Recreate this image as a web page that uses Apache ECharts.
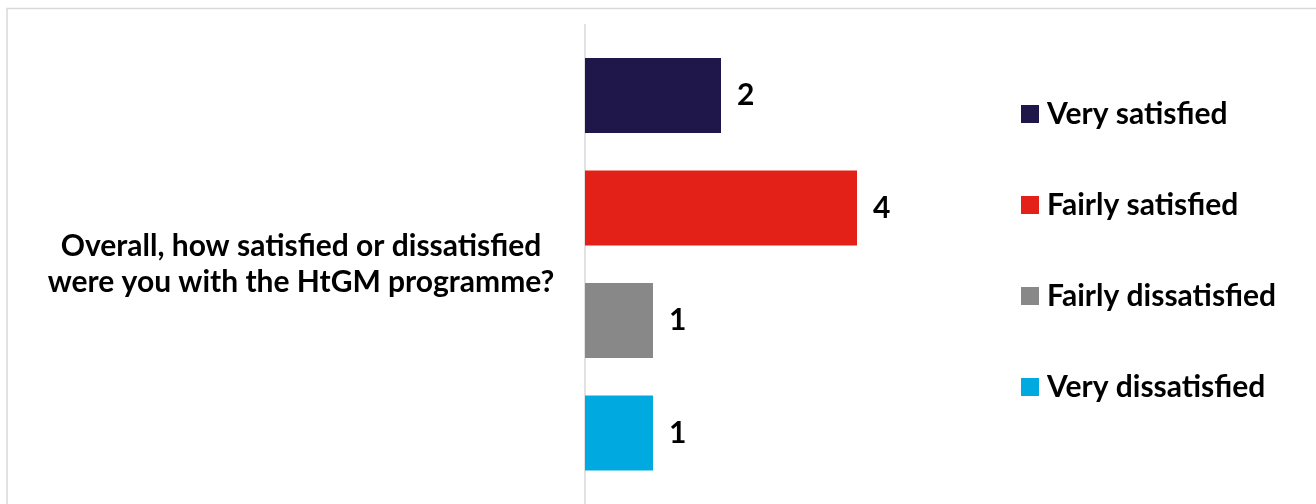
<!DOCTYPE html>
<html>
<head>
<meta charset="utf-8">
<script src="https://cdn.jsdelivr.net/npm/echarts@6/dist/echarts.min.js"></script>
<style>
html,body{margin:0;padding:0;background:#fff;}
#chart{width:1316px;height:504px;}
</style>
</head>
<body>
<div id="chart"></div>
<script>
const categories = ['Overall, how satisfied or dissatisfied\nwere you with the HtGM programme?'];
const seriesNames = ['Very satisfied', 'Fairly satisfied', 'Fairly dissatisfied', 'Very dissatisfied'];
const verySatisfied = [2];
const fairlySatisfied = [4];
const fairlyDissatisfied = [1];
const veryDissatisfied = [1];
const colors = ['#1F1649', '#E32119', '#888888', '#00A9E0'];

const FONT = 'Lato, "Noto Sans", sans-serif';
const values = [verySatisfied, fairlySatisfied, fairlyDissatisfied, veryDissatisfied];

const chart = echarts.init(document.getElementById('chart'), null, {renderer: 'canvas'});
chart.setOption({
  animation: false,
  backgroundColor: '#ffffff',
  graphic: [{
    type: 'rect',
    shape: {x: 7, y: 8.5, width: 1400, height: 600},
    style: {fill: 'none', stroke: '#d9d9d9', lineWidth: 1.5},
    silent: true
  }],
  grid: {left: 585, top: 24.5, width: 408, height: 486, containLabel: false},
  legend: {
    orient: 'vertical',
    left: 1016,
    top: 94,
    padding: 5,
    itemWidth: 18,
    itemHeight: 18,
    itemGap: 61,
    icon: 'rect',
    textStyle: {fontFamily: FONT, fontWeight: 'bold', fontSize: 30, color: '#000', padding: [0, 0, 0, 3]},
    data: seriesNames
  },
  xAxis: {type: 'value', min: 0, max: 6, show: false},
  yAxis: {
    type: 'category',
    inverse: true,
    data: categories,
    axisTick: {show: false},
    axisLine: {lineStyle: {color: '#d9d9d9', width: 1.5}},
    axisLabel: {
      margin: 284,
      align: 'center',
      fontFamily: FONT, fontWeight: 'bold', fontSize: 30, color: '#000', lineHeight: 36
    }
  },
  series: seriesNames.map((name, i) => ({
    name: name,
    type: 'bar',
    data: values[i],
    barWidth: 75,
    barGap: '50%',
    itemStyle: {color: colors[i]},
    label: {
      show: true, position: 'right', distance: 16,
      fontFamily: FONT, fontWeight: 'bold', fontSize: 30, color: '#000'
    }
  }))
});
</script>
</body>
</html>
